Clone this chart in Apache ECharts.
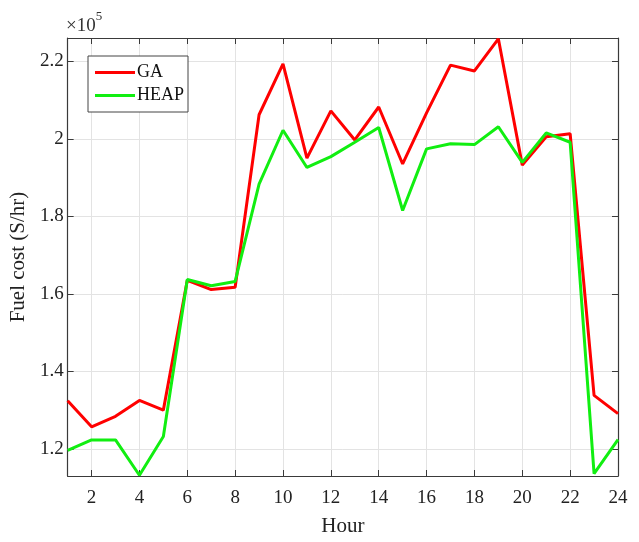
<!DOCTYPE html>
<html>
<head>
<meta charset="utf-8">
<script src="https://cdn.jsdelivr.net/npm/echarts@6/dist/echarts.min.js"></script>
<style>html,body{margin:0;padding:0;background:#fff}#c{width:639px;height:542px}</style>
</head>
<body>
<div id="c"></div>
<script>
var hours = [1,2,3,4,5,6,7,8,9,10,11,12,13,14,15,16,17,18,19,20,21,22,23,24];
var gaCost = [1.324,1.257,1.284,1.325,1.300,1.635,1.611,1.617,2.062,2.193,1.950,2.072,1.997,2.082,1.935,2.067,2.190,2.175,2.258,1.932,2.005,2.013,1.338,1.291];
var heapCost = [1.196,1.223,1.223,1.132,1.232,1.637,1.621,1.632,1.883,2.022,1.926,1.954,1.991,2.029,1.815,1.974,1.987,1.985,2.031,1.939,2.015,1.991,1.136,1.224];
var seriesNames = ['GA','HEAP'];
var yMin = 1.13, yMax = 2.26;

var font = '"Liberation Serif", "Times New Roman", serif';
var axisCol = '#3a3a3a';
var gridCol = '#e3e3e3';
function evenIdx(i){ return (i % 2) === 1; }

var chart = echarts.init(document.getElementById('c'), null, {renderer:'canvas'});
chart.setOption({
  animation: false,
  backgroundColor: '#ffffff',
  grid: {left: 65, right: 21, top: 38, bottom: 63},
  graphic: [{
    type: 'text', left: 66, top: 10,
    style: {
      text: '{a|×10}{b|5}',
      rich: {
        a: {fontFamily: font, fontSize: 19, fill: '#333', padding: [7,0,0,0]},
        b: {fontFamily: font, fontSize: 13, fill: '#333', verticalAlign: 'top'}
      }
    }
  }],
  legend: {
    data: seriesNames,
    orient: 'vertical',
    left: 88, top: 56,
    padding: [7, 4, 7, 7],
    icon: 'rect',
    itemWidth: 40, itemHeight: 3, itemGap: 4,
    backgroundColor: '#fff',
    borderColor: '#444', borderWidth: 1,
    textStyle: {fontFamily: font, fontSize: 18, color: '#111', lineHeight: 19, padding: [0,0,0,-3]}
  },
  xAxis: [{
    type: 'category', data: hours, boundaryGap: false,
    name: 'Hour', nameLocation: 'middle', nameGap: 40,
    nameTextStyle: {fontFamily: font, fontSize: 21, color: '#222'},
    axisLine: {lineStyle: {color: axisCol, width: 1.2}},
    axisTick: {inside: true, length: 6, interval: evenIdx, lineStyle: {color: axisCol}},
    axisLabel: {interval: evenIdx, fontFamily: font, fontSize: 19, color: '#222', margin: 13},
    splitLine: {show: true, interval: evenIdx, lineStyle: {color: gridCol, width: 1}}
  }, {
    type: 'category', data: hours, boundaryGap: false, position: 'top',
    axisLine: {lineStyle: {color: axisCol, width: 1.2}},
    axisTick: {inside: true, length: 6, interval: evenIdx, lineStyle: {color: axisCol}},
    axisLabel: {show: false},
    splitLine: {show: false}
  }],
  yAxis: [{
    type: 'value', min: yMin, max: yMax, splitNumber: 5,
    name: 'Fuel cost (S/hr)', nameLocation: 'middle', nameGap: 29, nameRotate: 90,
    nameTextStyle: {fontFamily: font, fontSize: 21, color: '#222'},
    axisLine: {show: true, lineStyle: {color: axisCol, width: 1.2}},
    axisTick: {show: true, inside: true, length: 6, lineStyle: {color: axisCol}},
    axisLabel: {showMinLabel: false, showMaxLabel: false, fontFamily: font, fontSize: 19, color: '#222', margin: 4,
      formatter: function(v){ return (Math.round(v*10)/10).toString(); }},
    splitLine: {show: true, lineStyle: {color: gridCol, width: 1}}
  }, {
    type: 'value', min: yMin, max: yMax, splitNumber: 5, position: 'right',
    axisLine: {show: true, lineStyle: {color: axisCol, width: 1.2}},
    axisTick: {show: true, inside: true, length: 6, lineStyle: {color: axisCol}},
    axisLabel: {show: false},
    splitLine: {show: false}
  }],
  series: [{
    name: seriesNames[0], type: 'line', data: gaCost, symbol: 'none',
    lineStyle: {color: '#ff0000', width: 3}, itemStyle: {color: '#ff0000'}, z: 3
  }, {
    name: seriesNames[1], type: 'line', data: heapCost, symbol: 'none',
    lineStyle: {color: '#11ee11', width: 3}, itemStyle: {color: '#11ee11'}, z: 4
  }]
});
</script>
</body>
</html>
